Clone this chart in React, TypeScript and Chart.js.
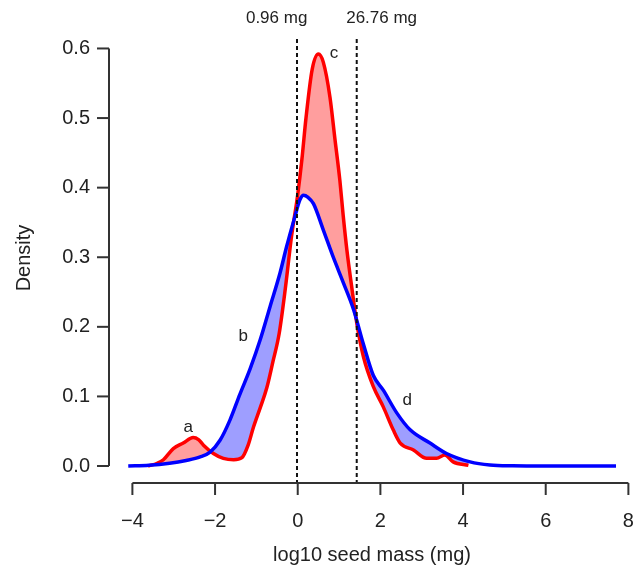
import React, { useEffect, useRef } from "react";
import { Chart, registerables } from "chart.js";

Chart.register(...registerables);

// Blue density curve (log10 seed mass vs density)
const blueX = [-4.1, -3.6, -3.1, -2.7, -2.36, -2.12, -1.88, -1.64, -1.4, -1.15, -0.91, -0.67, -0.43, -0.27, -0.07, 0.05, 0.14, 0.25, 0.38, 0.62, 0.86, 1.1, 1.35, 1.59, 1.83, 2.07, 2.4, 2.72, 3.2, 3.6, 4.17, 4.65, 5.2, 6.0, 7.0, 7.7];
const blueY = [0.0, 0.001, 0.004, 0.008, 0.013, 0.02, 0.037, 0.066, 0.103, 0.14, 0.181, 0.229, 0.277, 0.315, 0.358, 0.382, 0.389, 0.386, 0.377, 0.339, 0.3, 0.264, 0.225, 0.175, 0.13, 0.109, 0.076, 0.052, 0.033, 0.018, 0.006, 0.0015, 0.0003, 0.0, 0.0, 0.0];

// Red density curve
const redX = [-3.62, -3.4, -3.25, -3.01, -2.77, -2.53, -2.4, -2.28, -2.04, -1.8, -1.55, -1.35, -1.2, -1.07, -0.9, -0.75, -0.6, -0.45, -0.3, -0.15, 0.0, 0.1, 0.2, 0.35, 0.5, 0.62, 0.78, 0.9, 1.02, 1.1, 1.19, 1.3, 1.43, 1.59, 1.83, 2.07, 2.31, 2.48, 2.8, 3.12, 3.36, 3.56, 3.76, 4.13];
const redY = [0.0, 0.004, 0.009, 0.025, 0.033, 0.041, 0.038, 0.03, 0.018, 0.011, 0.009, 0.012, 0.03, 0.056, 0.085, 0.112, 0.15, 0.19, 0.255, 0.33, 0.39, 0.44, 0.5, 0.57, 0.592, 0.58, 0.53, 0.47, 0.41, 0.36, 0.31, 0.26, 0.205, 0.157, 0.114, 0.085, 0.052, 0.033, 0.023, 0.011, 0.011, 0.016, 0.006, 0.001];

const xTicks = [-4, -2, 0, 2, 4, 6, 8];
const xTickLabels = ["\u22124", "\u22122", "0", "2", "4", "6", "8"];
const yTicks = [0, 0.1, 0.2, 0.3, 0.4, 0.5, 0.6];
const yTickLabels = ["0.0", "0.1", "0.2", "0.3", "0.4", "0.5", "0.6"];

const refLineX = [Math.log10(0.96), Math.log10(26.76)];
const refLabels = ["0.96 mg", "26.76 mg"];
const refLabelX = [-0.51, 2.03];
const refLabelY = [0.644, 0.644];

const letterText = ["a", "b", "c", "d"];
const letterX = [-2.65, -1.32, 0.88, 2.65];
const letterY = [0.056, 0.186, 0.593, 0.095];

const xTitle = "log10 seed mass (mg)";
const yTitle = "Density";

const FONT = '"Liberation Sans", Arial, Helvetica, sans-serif';

const axesPlugin = {
  id: "rAxes",
  afterDatasetsDraw(chart: any) {
    const ctx = chart.ctx as CanvasRenderingContext2D;
    const xs = chart.scales.x;
    const ys = chart.scales.y;
    const area = chart.chartArea;
    ctx.save();

    // dashed reference lines
    ctx.strokeStyle = "#111";
    ctx.lineWidth = 2;
    ctx.setLineDash([4, 3]);
    refLineX.forEach((v) => {
      const px = xs.getPixelForValue(v);
      ctx.beginPath();
      ctx.moveTo(px, area.top);
      ctx.lineTo(px, area.bottom);
      ctx.stroke();
    });
    ctx.setLineDash([]);

    // x axis
    ctx.strokeStyle = "#333";
    ctx.lineWidth = 2;
    const ay = area.bottom;
    ctx.beginPath();
    ctx.moveTo(xs.getPixelForValue(xTicks[0]), ay);
    ctx.lineTo(xs.getPixelForValue(xTicks[xTicks.length - 1]), ay);
    ctx.stroke();
    ctx.fillStyle = "#222";
    ctx.font = `20px ${FONT}`;
    ctx.textAlign = "center";
    ctx.textBaseline = "middle";
    xTicks.forEach((v, i) => {
      const px = xs.getPixelForValue(v);
      ctx.beginPath();
      ctx.moveTo(px, ay);
      ctx.lineTo(px, ay + 12);
      ctx.stroke();
      ctx.fillText(xTickLabels[i], px, ay + 38);
    });

    // y axis
    const ax = area.left;
    ctx.beginPath();
    ctx.moveTo(ax, ys.getPixelForValue(yTicks[0]));
    ctx.lineTo(ax, ys.getPixelForValue(yTicks[yTicks.length - 1]));
    ctx.stroke();
    ctx.textAlign = "right";
    yTicks.forEach((v, i) => {
      const py = ys.getPixelForValue(v);
      ctx.beginPath();
      ctx.moveTo(ax, py);
      ctx.lineTo(ax - 12, py);
      ctx.stroke();
      ctx.fillText(yTickLabels[i], ax - 19, py);
    });

    // axis titles
    ctx.textAlign = "center";
    ctx.textBaseline = "alphabetic";
    ctx.fillText(xTitle, (area.left + area.right) / 2, ay + 78);
    ctx.save();
    ctx.translate(30, (area.top + area.bottom) / 2 - 3);
    ctx.rotate(-Math.PI / 2);
    ctx.fillText(yTitle, 0, 0);
    ctx.restore();

    // reference labels
    ctx.font = `17px ${FONT}`;
    ctx.textBaseline = "middle";
    refLabels.forEach((t, i) => {
      ctx.fillText(t, xs.getPixelForValue(refLabelX[i]), ys.getPixelForValue(refLabelY[i]));
    });

    // letters
    letterText.forEach((t, i) => {
      ctx.fillText(t, xs.getPixelForValue(letterX[i]), ys.getPixelForValue(letterY[i]));
    });

    ctx.restore();
  },
};

export default function App() {
  const ref = useRef<HTMLCanvasElement | null>(null);

  useEffect(() => {
    if (!ref.current) return;
    const blueData = blueX.map((x, i) => ({ x, y: blueY[i] }));
    const redData = redX.map((x, i) => ({ x, y: redY[i] }));
    const chart = new Chart(ref.current, {
      type: "line",
      data: {
        datasets: [
          {
            label: "blue",
            data: blueData,
            borderColor: "rgb(0,0,255)",
            borderWidth: 3.5,
            pointRadius: 0,
            cubicInterpolationMode: "monotone",
            fill: false,
          },
          {
            label: "red",
            data: redData,
            borderColor: "rgb(255,0,0)",
            borderWidth: 3.5,
            pointRadius: 0,
            cubicInterpolationMode: "monotone",
            fill: {
              target: 0,
              above: "rgba(255,0,0,0.38)",
              below: "rgba(0,0,255,0.38)",
            },
          },
        ],
      },
      options: {
        responsive: false,
        animation: false,
        devicePixelRatio: 1,
        layout: { padding: { left: 109, right: 0, top: 39, bottom: 83 } },
        plugins: {
          legend: { display: false },
          tooltip: { enabled: false },
        },
        scales: {
          x: { type: "linear", min: -4.566, max: 8.16, display: false },
          y: { type: "linear", min: -0.0244, max: 0.6136, display: false },
        },
      },
      plugins: [axesPlugin],
    });
    return () => chart.destroy();
  }, []);

  return (
    <div style={{ position: "absolute", left: 0, top: 0, width: 635, height: 566, background: "#fff" }}>
      <canvas ref={ref} width={635} height={566} style={{ display: "block" }} />
    </div>
  );
}
